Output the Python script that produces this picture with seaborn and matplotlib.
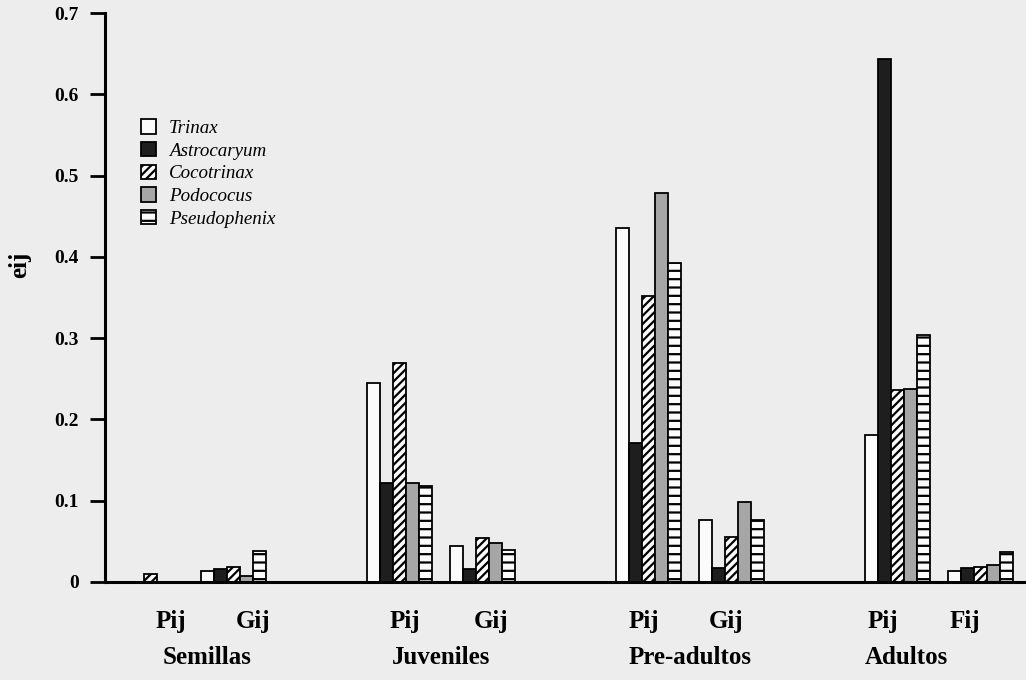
import pandas as pd
import matplotlib
matplotlib.use("Agg")
import matplotlib.pyplot as plt
import matplotlib.transforms as mtransforms
import seaborn as sns
from matplotlib.patches import Patch

# values (eij)
species = ['Trinax', 'Astrocaryum', 'Cocotrinax', 'Podococus', 'Pseudophenix']
slots = ['Semillas Pij', 'Semillas Gij', 'Juveniles Pij', 'Juveniles Gij',
         'Pre-adultos Pij', 'Pre-adultos Gij', 'Adultos Pij', 'Adultos Fij']
params = ['Pij', 'Gij', 'Pij', 'Gij', 'Pij', 'Gij', 'Pij', 'Fij']
stages = ['Semillas', 'Juveniles', 'Pre-adultos', 'Adultos']

trinax = [0.0, 0.014, 0.245, 0.044, 0.436, 0.076, 0.181, 0.013]
astrocaryum = [0.0, 0.016, 0.122, 0.016, 0.171, 0.017, 0.644, 0.017]
cocotrinax = [0.010, 0.019, 0.270, 0.054, 0.352, 0.055, 0.236, 0.019]
podococus = [0.0, 0.007, 0.122, 0.048, 0.478, 0.098, 0.238, 0.021]
pseudophenix = [0.0, 0.038, 0.118, 0.039, 0.393, 0.076, 0.304, 0.037]

yticks = [0, 0.1, 0.2, 0.3, 0.4, 0.5, 0.6, 0.7]
ytick_labels = ['0', '0.1', '0.2', '0.3', '0.4', '0.5', '0.6', '0.7']

values = {'Trinax': trinax, 'Astrocaryum': astrocaryum, 'Cocotrinax': cocotrinax,
          'Podococus': podococus, 'Pseudophenix': pseudophenix}
rows = []
for sp in species:
    for slot, v in zip(slots, values[sp]):
        rows.append({'slot': slot, 'species': sp, 'eij': v})
df = pd.DataFrame(rows)

# empty slots between life stages
order = ['Semillas Pij', 'Semillas Gij', ' ', 'Juveniles Pij', 'Juveniles Gij', '  ',
         'Pre-adultos Pij', 'Pre-adultos Gij', '   ', 'Adultos Pij', 'Adultos Fij']

bg = '#ededed'
colors = {'Trinax': '#fbfbfb', 'Astrocaryum': '#1e1e1e', 'Cocotrinax': '#fbfbfb',
          'Podococus': '#a6a6a6', 'Pseudophenix': '#fbfbfb'}
hatches = {'Trinax': '', 'Astrocaryum': '', 'Cocotrinax': '////',
           'Podococus': '', 'Pseudophenix': '--'}

plt.rcParams['font.family'] = ['Liberation Serif', 'DejaVu Serif']
plt.rcParams['hatch.linewidth'] = 1.6

fig = plt.figure(figsize=(10.26, 6.8), dpi=100, facecolor=bg)
ax = fig.add_axes([105 / 1026, 98 / 680, 921 / 1026, 569 / 680])
ax.set_facecolor(bg)

sns.barplot(data=df, x='slot', y='eij', hue='species', order=order, hue_order=species,
            palette=colors, width=0.78, edgecolor='black', linewidth=1.3,
            errorbar=None, legend=False, ax=ax)

for sp, cont in zip(species, ax.containers):
    for bar in cont:
        bar.set_hatch(hatches[sp])
        bar.set_edgecolor('black')

ax.set_xlim(-0.55, 10.55)
ax.set_ylim(0, 0.7)
ax.set_yticks(yticks)
ax.set_yticklabels(ytick_labels, fontsize=14, fontweight='bold')
ax.tick_params(axis='y', length=11, width=2, pad=8)
ax.tick_params(axis='x', length=0, labelbottom=False)
ax.set_xlabel('')
ax.set_ylabel('')
for s in ['top', 'right']:
    ax.spines[s].set_visible(False)
for s in ['left', 'bottom']:
    ax.spines[s].set_linewidth(2.2)

# parameter and stage labels below the axis
trans = mtransforms.blended_transform_factory(ax.transData, ax.transAxes)
slot_pos = [order.index(s) for s in slots]
param_shift = [0.24, 0.23, 0.07, 0.1, -0.06, -0.07, -0.18, -0.19]
for p, lab, dx in zip(slot_pos, params, param_shift):
    ax.text(p + dx, -0.081, lab, transform=trans, ha='center', va='baseline',
            fontsize=18, fontweight='bold')
stage_shift = [0.18, 0.0, 0.0, -0.39]
for i, (st, dx) in enumerate(zip(stages, stage_shift)):
    mid = (slot_pos[2 * i] + slot_pos[2 * i + 1]) / 2
    ax.text(mid + dx, -0.144, st, transform=trans, ha='center', va='baseline',
            fontsize=18, fontweight='bold')

fig.text(20 / 1026, 1 - 265 / 680, 'eij', rotation=90, ha='center', va='center',
         fontsize=18, fontweight='bold')

handles = [Patch(facecolor=colors[sp], edgecolor='black', hatch=hatches[sp], linewidth=1.3)
           for sp in species]
ax.legend(handles, species, loc='upper left', bbox_to_anchor=(0.029, 0.83),
          frameon=False, borderpad=0, handlelength=0.8, handleheight=0.8,
          handletextpad=0.65, labelspacing=0.25,
          prop={'family': 'Liberation Serif', 'style': 'italic', 'size': 13.7})

fig.savefig('out.png', dpi=100, facecolor=bg)
